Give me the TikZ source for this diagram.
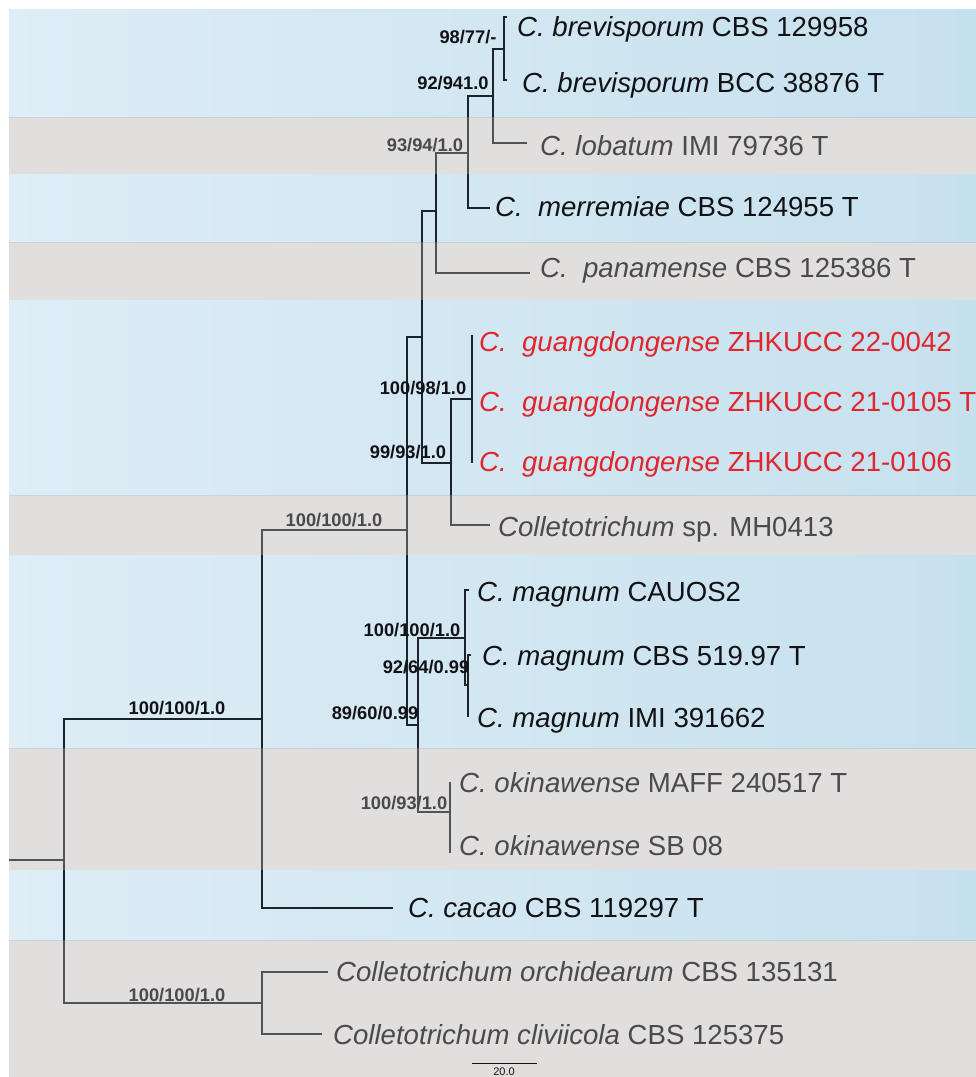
\documentclass[tikz,border=0pt]{standalone}
\usepackage{fontspec}
\setmainfont{Liberation Sans}
\definecolor{bandblueL}{RGB}{222,237,246}
\definecolor{bandblueR}{RGB}{198,225,238}
\definecolor{bandgray}{RGB}{172,169,168}
\definecolor{treeline}{RGB}{28,34,42}
\definecolor{txt}{RGB}{18,18,22}
\definecolor{guangred}{RGB}{228,36,44}
\tikzset{
  branch/.style={draw=treeline, line width=1.2pt},
  leaf/.style={anchor=west, inner sep=0pt, text height=19.8pt, text depth=0pt,
    font=\fontsize{27.6}{30}\selectfont, text=txt},
  redleaf/.style={leaf, text=guangred},
  support/.style={inner sep=0pt, text height=13.1pt, text depth=0pt,
    font=\fontsize{18.3}{20}\selectfont\bfseries, text=txt},
  blueband/.style={left color=bandblueL, right color=bandblueR},
  grayband/.style={fill=bandgray, fill opacity=0.37},
}
\begin{document}
\begin{tikzpicture}[x=1pt,y=-1pt]
\useasboundingbox (0,0) rectangle (976,1077);
\fill[white] (0,0) rectangle (976,1077);
% blue bands
\shade[blueband] (9,9) rectangle (976,117);
\shade[blueband] (9,174) rectangle (976,242);
\shade[blueband] (9,300) rectangle (976,495);
\shade[blueband] (9,555) rectangle (976,748);
\shade[blueband] (9,870) rectangle (976,940);

% internal nodes
\coordinate (r0) at (9,860);
\coordinate (r) at (64,860);
\coordinate (n1) at (262,719);
\coordinate (n2) at (262,1003);
\coordinate (n3) at (407,530);
\coordinate (n4) at (422,337);
\coordinate (n5) at (436,211);
\coordinate (n6) at (468,153);
\coordinate (n7) at (493,96);
\coordinate (n8) at (504,49);
\coordinate (n9) at (451,463);
\coordinate (n10) at (472,399);
\coordinate (n11) at (418,725);
\coordinate (n12) at (465,638);
\coordinate (n13) at (468,685);
\coordinate (n14) at (450,812);
% tips
\coordinate (tBrevA) at (507,17);
\coordinate (tBrevB) at (507,80);
\coordinate (tLob) at (527,143);
\coordinate (tMer) at (490,208);
\coordinate (tPan) at (530,273);
\coordinate (tGuA) at (472,335);
\coordinate (tGuC) at (472,463);
\coordinate (tMH) at (490,525);
\coordinate (tMagA) at (469,590);
\coordinate (tMagB) at (471,655);
\coordinate (tMagC) at (468,717);
\coordinate (tOkA) at (450,782);
\coordinate (tOkB) at (450,853);
\coordinate (tCac) at (393,908);
\coordinate (tOrc) at (328,972);
\coordinate (tCli) at (322,1034);

% branches
\draw[branch] (r0) -- (r);
\draw[branch] (r) |- (n1);
\draw[branch] (r) |- (n2);
\draw[branch] (n1) |- (n3);
\draw[branch] (n1) |- (tCac);
\draw[branch] (n2) |- (tOrc);
\draw[branch] (n2) |- (tCli);
\draw[branch] (n3) |- (n4);
\draw[branch] (n3) |- (n11);
\draw[branch] (n4) |- (n5);
\draw[branch] (n4) |- (n9);
\draw[branch] (n5) |- (n6);
\draw[branch] (n5) |- (tPan);
\draw[branch] (n6) |- (n7);
\draw[branch] (n6) |- (tMer);
\draw[branch] (n7) |- (n8);
\draw[branch] (n7) |- (tLob);
\draw[branch] (n8) |- (tBrevA);
\draw[branch] (n8) |- (tBrevB);
\draw[branch] (n9) |- (n10);
\draw[branch] (n9) |- (tMH);
\draw[branch] (n10) |- (tGuA);
\draw[branch] (n10) |- (tGuC);
\draw[branch] (n11) |- (n12);
\draw[branch] (n11) |- (n14);
\draw[branch] (n12) |- (tMagA);
\draw[branch] (n12) |- (n13);
\draw[branch] (n13) |- (tMagB);
\draw[branch] (n13) |- (tMagC);
\draw[branch] (n14) |- (tOkA);
\draw[branch] (n14) |- (tOkB);

% leaf labels
\node[leaf] (lBrevA) at (517,27) {\textit{C. brevisporum} CBS 129958};
\node[leaf] (lBrevB) at (522,83) {\textit{C. brevisporum} BCC 38876 T};
\node[leaf] (lLob) at (540,146) {\textit{C. lobatum} IMI 79736 T};
\node[leaf] (lMer) at (495,207) {\textit{C.\ \ merremiae} CBS 124955 T};
\node[leaf] (lPan) at (540,268) {\textit{C.\ \ panamense} CBS 125386 T};
\node[redleaf] (lGuA) at (479,342) {\textit{C.\ \ guangdongense} ZHKUCC 22-0042};
\node[redleaf] (lGuB) at (479,402) {\textit{C.\ \ guangdongense} ZHKUCC 21-0105 T};
\node[redleaf] (lGuC) at (479,462) {\textit{C.\ \ guangdongense} ZHKUCC 21-0106};
\node[leaf] (lMH) at (498,527) {\textit{Colletotrichum} sp. MH0413};
\node[leaf] (lMagA) at (477,592) {\textit{C. magnum} CAUOS2};
\node[leaf] (lMagB) at (482,656) {\textit{C. magnum} CBS 519.97 T};
\node[leaf] (lMagC) at (477,718) {\textit{C. magnum} IMI 391662};
\node[leaf] (lOkA) at (459,783) {\textit{C. okinawense} MAFF 240517 T};
\node[leaf] (lOkB) at (459,846) {\textit{C. okinawense} SB 08};
\node[leaf] (lCac) at (408,908) {\textit{C. cacao} CBS 119297 T};
\node[leaf] (lOrc) at (336,972) {\textit{Colletotrichum orchidearum} CBS 135131};
\node[leaf] (lCli) at (333,1035) {\textit{Colletotrichum cliviicola} CBS 125375};

% support values
\node[support] (s1) at (468,37) {98/77/-};
\node[support] (s2) at (453,83) {92/941.0};
\node[support] (s3) at (425,145) {93/94/1.0};
\node[support] (s4) at (423,388) {100/98/1.0};
\node[support] (s5) at (408,452) {99/93/1.0};
\node[support] (s6) at (334,520) {100/100/1.0};
\node[support] (s7) at (412,630) {100/100/1.0};
\node[support] (s8) at (426,667) {92/64/0.99};
\node[support] (s9) at (375,713) {89/60/0.99};
\node[support] (s10) at (404,803) {100/93/1.0};
\node[support] (s11) at (177,708) {100/100/1.0};
\node[support] (s12) at (177,995) {100/100/1.0};

% gray bands (translucent overlay)
\fill[grayband] (9,117) rectangle (976,174);
\fill[grayband] (9,242) rectangle (976,300);
\fill[grayband] (9,495) rectangle (976,555);
\fill[grayband] (9,748) rectangle (976,870);
\fill[grayband] (9,940) rectangle (976,1077);

% scale bar
\coordinate (sbA) at (472,1063);
\coordinate (sbB) at (537,1063);
\draw[draw=txt, line width=1pt] (sbA) -- (sbB);
\node[inner sep=0pt, text height=8pt, text depth=0pt, font=\fontsize{11}{12}\selectfont, text=txt] (sbL) at (504,1071.5) {20.0};
\end{tikzpicture}
\end{document}
